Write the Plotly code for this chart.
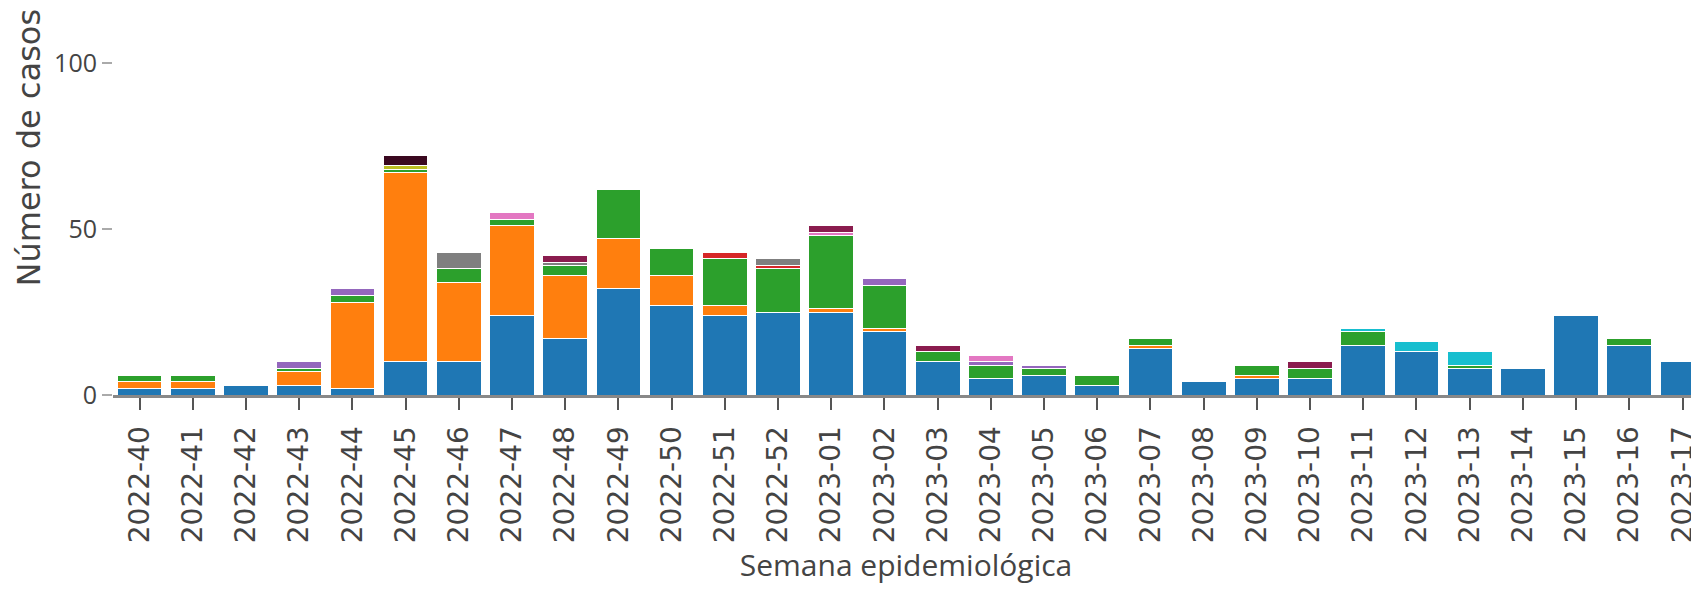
import plotly.graph_objects as go

weeks = ["2022-40", "2022-41", "2022-42", "2022-43", "2022-44", "2022-45", "2022-46",
         "2022-47", "2022-48", "2022-49", "2022-50", "2022-51", "2022-52",
         "2023-01", "2023-02", "2023-03", "2023-04", "2023-05", "2023-06", "2023-07",
         "2023-08", "2023-09", "2023-10", "2023-11", "2023-12", "2023-13", "2023-14",
         "2023-15", "2023-16", "2023-17"]

s_blue   = [2, 2, 3, 3, 2, 10, 10, 24, 17, 32, 27, 24, 25, 25, 19, 10, 5, 6, 3, 14, 4, 5, 5, 15, 13, 8, 8, 24, 15, 10]
s_orange = [2, 2, 0, 4, 26, 57, 24, 27, 19, 15, 9, 3, 0, 1, 1, 0, 0, 0, 0, 1, 0, 1, 0, 0, 0, 0, 0, 0, 0, 0]
s_green  = [2, 2, 0, 1, 2, 1, 4, 2, 3, 15, 8, 14, 13, 22, 13, 3, 4, 2, 3, 2, 0, 3, 3, 4, 0, 1, 0, 0, 2, 0]
s_red    = [0, 0, 0, 0, 0, 0, 0, 0, 0, 0, 0, 2, 1, 0, 0, 0, 0, 0, 0, 0, 0, 0, 0, 0, 0, 0, 0, 0, 0, 0]
s_purple = [0, 0, 0, 2, 2, 0, 0, 0, 0, 0, 0, 0, 0, 0, 2, 0, 1, 1, 0, 0, 0, 0, 0, 0, 0, 0, 0, 0, 0, 0]
s_pink   = [0, 0, 0, 0, 0, 0, 0, 2, 0, 0, 0, 0, 0, 1, 0, 0, 2, 0, 0, 0, 0, 0, 0, 0, 0, 0, 0, 0, 0, 0]
s_gray   = [0, 0, 0, 0, 0, 0, 5, 0, 1, 0, 0, 0, 2, 0, 0, 0, 0, 0, 0, 0, 0, 0, 0, 0, 0, 0, 0, 0, 0, 0]
s_olive  = [0, 0, 0, 0, 0, 1, 0, 0, 0, 0, 0, 0, 0, 0, 0, 0, 0, 0, 0, 0, 0, 0, 0, 0, 0, 0, 0, 0, 0, 0]
s_cyan   = [0, 0, 0, 0, 0, 0, 0, 0, 0, 0, 0, 0, 0, 0, 0, 0, 0, 0, 0, 0, 0, 0, 0, 1, 3, 4, 0, 0, 0, 0]
s_maroon = [0, 0, 0, 0, 0, 0, 0, 0, 2, 0, 0, 0, 0, 2, 0, 2, 0, 0, 0, 0, 0, 0, 2, 0, 0, 0, 0, 0, 0, 0]
s_dark   = [0, 0, 0, 0, 0, 3, 0, 0, 0, 0, 0, 0, 0, 0, 0, 0, 0, 0, 0, 0, 0, 0, 0, 0, 0, 0, 0, 0, 0, 0]

series = [
    ("Grupo 1", s_blue, "#1f77b4"),
    ("Grupo 2", s_orange, "#ff7f0e"),
    ("Grupo 3", s_green, "#2ca02c"),
    ("Grupo 4", s_red, "#d62728"),
    ("Grupo 5", s_purple, "#9467bd"),
    ("Grupo 6", s_pink, "#e377c2"),
    ("Grupo 7", s_gray, "#7f7f7f"),
    ("Grupo 8", s_olive, "#bcbd22"),
    ("Grupo 9", s_cyan, "#17becf"),
    ("Grupo 10", s_maroon, "#8a1c4e"),
    ("Grupo 11", s_dark, "#3a0820"),
]

fig = go.Figure()
for name, vals, col in series:
    fig.add_trace(go.Bar(x=weeks, y=vals, name=name,
                         marker=dict(color=col, line=dict(color="white", width=1))))

L, R, B, W, H = 105, 8, 204, 1699, 591
plot_w = W - L - R
plot_h = H - B

fig.update_layout(
    barmode="stack",
    bargap=0.16,
    width=W, height=H,
    margin=dict(l=L, r=R, t=0, b=B),
    plot_bgcolor="white", paper_bgcolor="white",
    showlegend=False,
    font=dict(family="Open Sans", color="#444"),
    xaxis=dict(
        type="category",
        range=[-0.5, 29.31],
        automargin=False,
        tickangle=-90,
        tickfont=dict(family="DejaVu Sans", size=28, color="#444"),
        ticks="outside", ticklen=12, tickwidth=2, tickcolor="#555",
        ticklabelstandoff=5,
        showline=True, linecolor="#888", linewidth=3,
        showgrid=False,
        title=dict(text="Semana epidemiológica", font=dict(family="Open Sans", size=30, color="#444"), standoff=13),
    ),
    yaxis=dict(
        range=[0, plot_h / 3.32],
        automargin=False,
        tickvals=[0, 50, 100],
        tickfont=dict(family="Open Sans", size=25, color="#444"),
        ticks="outside", ticklen=10, tickwidth=2, tickcolor="#aaa",
        showgrid=False, zeroline=False, showline=False,
    ),
    annotations=[dict(text="Número de casos", textangle=-90, xref="paper", yref="paper",
                      x=(20.5 - L) / plot_w, y=(plot_h - 140) / plot_h,
                      xanchor="center", yanchor="middle", showarrow=False,
                      font=dict(family="DejaVu Sans", size=32, color="#444"))],
)

fig.write_html("out.html")
